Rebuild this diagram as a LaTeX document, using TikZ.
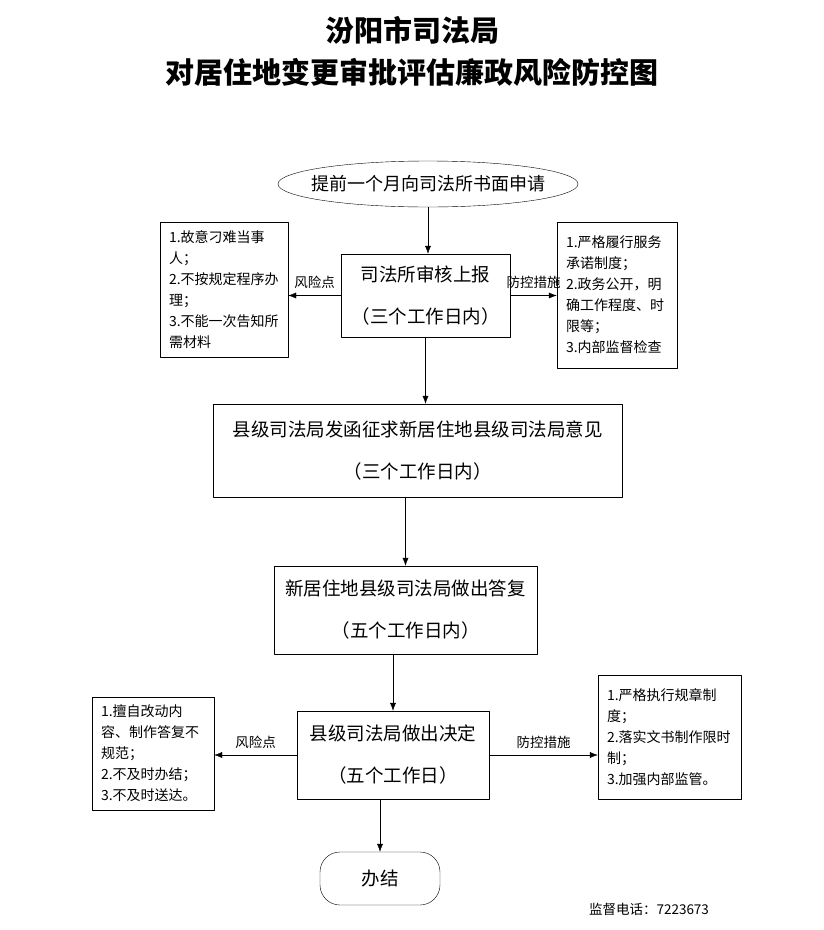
\documentclass[tikz,border=0pt]{standalone}
\usepackage{fontspec}
\setmainfont{Noto Sans CJK SC}
\usetikzlibrary{shapes.geometric,arrows.meta}
\tikzset{
	box/.style={draw, inner sep=0pt, align=center, font=\fontsize{18.5}{42}\selectfont},
	side/.style={draw, inner xsep=9pt, inner ysep=0pt, align=left, font=\fontsize{14}{21}\selectfont},
	lbl/.style={font=\fontsize{13.5}{16}\selectfont, above=3pt},
}
\begin{document}
\begin{tikzpicture}[x=1pt,y=-1pt,>={Latex[length=8pt,width=6pt]}, line join=round]
	\useasboundingbox[fill=white] (0,0) rectangle (823,930);
	% Tiêu đề
	\node (title) at (412,51) [align=center, font=\bfseries\fontsize{29}{42}\selectfont] {汾阳市司法局\\对居住地变更审批评估廉政风险防控图};
	\node (start) at (428,184) [ellipse, draw, minimum width=300pt, minimum height=46pt, inner xsep=-11pt, inner ysep=0pt, font=\fontsize{18}{20}\selectfont] {提前一个月向司法所书面申请};
	% Các bước
	\node (b1) at (425.5,295.5) [box, minimum width=169pt, minimum height=83pt] {司法所审核上报\\（三个工作日内）};
	\node (b2) at (417.5,450.5) [box, minimum width=409pt, minimum height=93pt] {县级司法局发函征求新居住地县级司法局意见\\（三个工作日内）};
	\node (b3) at (405.5,610) [box, minimum width=263pt, minimum height=88pt] {新居住地县级司法局做出答复\\（五个工作日内）};
	\node (b4) at (393,755) [box, minimum width=192pt, minimum height=88pt] {县级司法局做出决定\\（五个工作日）};
	\node (end) at (380,878.5) [draw, rounded corners=20pt, minimum width=120pt, minimum height=53pt, font=\fontsize{18.5}{20}\selectfont] {办结};
	% Hộp bên
	\node (lb1) at (224,289.5) [side, text width=110pt, minimum height=135pt] {1.故意刁难当事\\人；\\2.不按规定程序办\\理；\\3.不能一次告知所\\需材料};
	\node (rb1) at (617,295) [side, text width=102pt, minimum height=146pt] {1.严格履行服务\\承诺制度；\\2.政务公开，明\\确工作程度、时\\限等；\\3.内部监督检查};
	\node (lb4) at (153,753.5) [side, text width=104pt, minimum height=113pt] {1.擅自改动内\\容、制作答复不\\规范；\\2.不及时办结；\\3.不及时送达。};
	\node (rb4) at (669.5,737) [side, text width=125pt, minimum height=124pt] {1.严格执行规章制\\度；\\2.落实文书制作限时\\制；\\3.加强内部监管。};
	% Mũi tên
	\draw[->] (start.south) -- (start.south|-b1.north);
	\draw[->] (b1.south) -- (b1.south|-b2.north);
	\draw[->] (b3.north|-b2.south) -- (b3.north);
	\draw[->] (b4.north|-b3.south) -- (b4.north);
	\draw[->] (end.north|-b4.south) -- (end.north);
	\draw[->] (b1.west) -- node[lbl]{风险点} (lb1.east|-b1.west);
	\draw[->] (b1.east) -- node[lbl]{防控措施} (rb1.west|-b1.east);
	\draw[->] (b4.west) -- node[lbl]{风险点} (lb4.east|-b4.west);
	\draw[->] (b4.east) -- node[lbl]{防控措施} (rb4.west|-b4.east);
	\node (tel) at (649,909) [font=\fontsize{13.5}{16}\selectfont] {监督电话：7223673};
\end{tikzpicture}
\end{document}
